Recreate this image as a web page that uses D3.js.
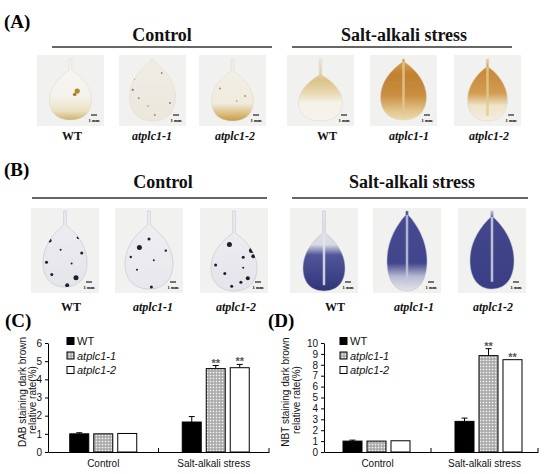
<!DOCTYPE html>
<html>
<head>
<meta charset="utf-8">
<script src="https://d3js.org/d3.v7.min.js"></script>
<style>
  body { margin: 0; background: #fff; }
  .serif { font-family: "Liberation Serif", "Times New Roman", serif; font-weight: bold; }
  .sans { font-family: "Liberation Sans", Arial, sans-serif; }
  .axis path, .axis line { stroke: #000; }
  .axis text { font-family: "Liberation Sans", Arial, sans-serif; font-size: 10px; fill: #111; }
</style>
</head>
<body>
<svg id="fig" width="550" height="474"></svg>
<script>
var genotypes = ["WT", "atplc1-1", "atplc1-2"];
var treatments = ["Control", "Salt-alkali stress"];

// (C) DAB staining, relative rate
var dabControl = [1.00, 1.00, 1.02];
var dabControlErr = [0.06, 0, 0];
var dabStress = [1.65, 4.59, 4.64];
var dabStressErr = [0.30, 0.17, 0.18];
var dabTicks = [0, 1, 2, 3, 4, 5, 6];

// (D) NBT staining, relative rate
var nbtControl = [1.00, 1.00, 1.03];
var nbtControlErr = [0.09, 0, 0];
var nbtStress = [2.81, 8.84, 8.47];
var nbtStressErr = [0.30, 0.64, 0];
var nbtTicks = [0, 1, 2, 3, 4, 5, 6, 7, 8, 9, 10];

var stressSig = ["", "**", "**"];

var svg = d3.select("#fig");
svg.append("rect").attr("width", 550).attr("height", 474).attr("fill", "#fff");
var defs = svg.append("defs");

// grey dotted fill for atplc1-1
var pat = defs.append("pattern").attr("id", "dots")
  .attr("width", 3).attr("height", 3).attr("patternUnits", "userSpaceOnUse");
pat.append("rect").attr("width", 3).attr("height", 3).attr("fill", "#bcbcbc");
pat.append("rect").attr("width", 1).attr("height", 1).attr("fill", "#f4f4f4");
pat.append("rect").attr("x", 1.5).attr("y", 1.5).attr("width", 1).attr("height", 1).attr("fill", "#7c7c7c");

var barFill = { "WT": "#000", "atplc1-1": "url(#dots)", "atplc1-2": "#fff" };

// ---------- leaf photos (A) and (B) ----------
var dabLeaves = [
  { pet: 11, len: 50, wid: 42, stops: [[0, "#f6f6f3"], [0.6, "#f5f3ec"], [0.85, "#ece2c4"], [1, "#cfb06c"]],
    spots: [[0.16, 0.42, 2.6, "#b3862f"], [0.1, 0.49, 1.8, "#a87d2d"]] },
  { pet: 2, len: 60, wid: 46, stops: [[0, "#efede6"], [1, "#ebe7dc"]],
    spots: [[-0.4, 0.3, 1.1, "#8c7a5a"], [-0.43, 0.48, 1.1, "#8c7a5a"], [-0.3, 0.62, 0.9, "#9a8864"], [0.2, 0.2, 0.9, "#9a8864"], [0.38, 0.7, 0.9, "#8c7a5a"], [0.05, 0.9, 0.9, "#9a8864"], [-0.1, 0.75, 0.8, "#9a8864"]] },
  { pet: 12, len: 50, wid: 42, stops: [[0, "#f2f0e9"], [0.72, "#f0ebdd"], [0.9, "#d9b876"], [1, "#c49a4e"]],
    spots: [[-0.3, 0.35, 0.9, "#a08860"], [0.3, 0.5, 0.9, "#a08860"], [0.1, 0.6, 0.8, "#a08860"]] },
  { pet: 16, len: 46, wid: 44, stops: [[0, "#efe9d8"], [0.35, "#dcc386"], [0.55, "#e8d9b3"], [0.7, "#f4f1e7"], [1, "#f5f3ec"]],
    spots: [] },
  { pet: 3, len: 58, wid: 46, stops: [[0, "#d9a456"], [0.25, "#c0802f"], [0.6, "#ca8f43"], [0.85, "#e2c58b"], [1, "#ebd9ad"]],
    rib: "#e2c890", spots: [] },
  { pet: 8, len: 54, wid: 40, stops: [[0, "#e8d3a2"], [0.2, "#c9883a"], [0.55, "#d29d52"], [0.75, "#efe3c7"], [1, "#f4eee2"]],
    rib: "#e2c990", spots: [] }
];
var nbtLeaves = [
  { pet: 14, len: 62, wid: 44, stops: [[0, "#eeeef2"], [1, "#e4e4eb"]],
    spots: [[-0.35, 0.25, 2], [0.3, 0.2, 1.5], [0.38, 0.45, 1.5], [-0.42, 0.6, 1.5], [-0.1, 0.4, 1], [0.25, 0.85, 2.5], [0.05, 0.97, 2], [-0.3, 0.8, 1.5], [0.15, 0.62, 1]] },
  { pet: 14, len: 64, wid: 48, stops: [[0, "#f0f0f3"], [1, "#e7e7ed"]],
    spots: [[-0.2, 0.35, 2.5], [0, 0.22, 1.5], [-0.38, 0.5, 1.2], [0.35, 0.4, 1.2], [0.1, 0.55, 1], [-0.25, 0.7, 1], [0.05, 0.97, 1.5]] },
  { pet: 22, len: 58, wid: 46, stops: [[0, "#efeff3"], [1, "#e4e4eb"]],
    spots: [[-0.1, 0.2, 2.5], [0.38, 0.3, 2.5], [0.42, 0.4, 2], [0.2, 0.42, 1.5], [-0.4, 0.55, 1.5], [-0.2, 0.7, 1.5], [0.3, 0.78, 2], [0.15, 0.85, 1.5], [-0.05, 0.92, 1.5], [0.2, 0.6, 1]] },
  { pet: 22, len: 58, wid: 42, stops: [[0, "#e9e9ee"], [0.42, "#d9d9e4"], [0.55, "#51569a"], [1, "#30357a"]],
    rib: "#e4e4ec", spots: [] },
  { pet: 4, len: 76, wid: 40, stops: [[0, "#474c92"], [0.65, "#41468c"], [0.82, "#b9bad1"], [1, "#e4e4ea"]],
    rib: "#c4c6dd", spots: [] },
  { pet: 6, len: 72, wid: 44, stops: [[0, "#c8c9dc"], [0.1, "#43488c"], [1, "#3a3f85"]],
    rib: "#d3d4e5", spots: [] }
];

function leafPath(cx, top, pet, len, wid) {
  var p = d3.path(), b = top + pet, e = b + len, h = wid / 2;
  p.moveTo(cx - 1.3, top);
  p.lineTo(cx + 1.3, top);
  p.lineTo(cx + 1.3, b);
  p.bezierCurveTo(cx + h * 0.55, b + len * 0.14, cx + h, b + len * 0.35, cx + h, b + len * 0.6);
  p.bezierCurveTo(cx + h, b + len * 0.88, cx + h * 0.55, e, cx, e);
  p.bezierCurveTo(cx - h * 0.55, e, cx - h, b + len * 0.88, cx - h, b + len * 0.6);
  p.bezierCurveTo(cx - h, b + len * 0.35, cx - h * 0.55, b + len * 0.14, cx - 1.3, b);
  p.closePath();
  return p.toString();
}

function photoPanel(o) {
  var g = svg.append("g");
  g.append("text").attr("class", "serif").attr("x", o.tagX).attr("y", o.tagY)
    .attr("font-size", 19).text(o.tag);
  treatments.forEach(function (t, i) {
    g.append("text").attr("class", "serif").attr("x", o.titleX[i]).attr("y", o.titleY)
      .attr("text-anchor", "middle").attr("font-size", 18).attr("fill", "#111").text(t);
    g.append("line").attr("x1", o.lineX[i][0]).attr("x2", o.lineX[i][1])
      .attr("y1", o.lineY).attr("y2", o.lineY).attr("stroke", "#333").attr("stroke-width", 1.6);
  });
  o.leaves.forEach(function (lf, i) {
    var tx = o.tileX[i], cx = tx + o.tileW / 2, top = o.tileY + o.leafTop;
    g.append("rect").attr("x", tx).attr("y", o.tileY).attr("width", o.tileW).attr("height", o.tileH)
      .attr("fill", "#f1f1f0");
    var id = o.tag.replace(/\W/g, "") + i;
    var grad = defs.append("linearGradient").attr("id", "g" + id)
      .attr("x1", 0).attr("y1", 0).attr("x2", 0).attr("y2", 1);
    lf.stops.forEach(function (s) {
      grad.append("stop").attr("offset", s[0]).attr("stop-color", s[1]);
    });
    var d = leafPath(cx, top, lf.pet, lf.len, lf.wid);
    defs.append("clipPath").attr("id", "c" + id).append("path").attr("d", d);
    g.append("path").attr("d", d).attr("fill", "url(#g" + id + ")")
      .attr("stroke", o.edge).attr("stroke-width", 0.5);
    var inner = g.append("g").attr("clip-path", "url(#c" + id + ")");
    if (lf.rib) {
      inner.append("line").attr("x1", cx).attr("x2", cx)
        .attr("y1", top + lf.pet).attr("y2", top + lf.pet + lf.len * 0.9)
        .attr("stroke", lf.rib).attr("stroke-width", 2.5).attr("opacity", 0.85);
    }
    lf.spots.forEach(function (s) {
      inner.append("circle").attr("cx", cx + s[0] * lf.wid).attr("cy", top + lf.pet + s[1] * lf.len)
        .attr("r", s[2]).attr("fill", s[3] || "#1e1e2c");
    });
    // scale bar
    var sx = tx + o.tileW - 10, sy = o.tileY + o.tileH - 11;
    g.append("line").attr("x1", sx - 3).attr("x2", sx + 3).attr("y1", sy).attr("y2", sy)
      .attr("stroke", "#222").attr("stroke-width", 1.2);
    g.append("text").attr("class", "serif").attr("x", sx).attr("y", sy + 7)
      .attr("text-anchor", "middle").attr("font-size", 4.5).attr("font-weight", "normal").text("1 mm");
    // genotype label
    g.append("text").attr("class", "serif").attr("x", o.labelX[i]).attr("y", o.labelY)
      .attr("text-anchor", "middle").attr("font-size", 12).attr("fill", "#111")
      .attr("font-style", i % 3 === 0 ? "normal" : "italic").text(genotypes[i % 3]);
  });
}

photoPanel({
  tag: "(A)", tagX: 4, tagY: 28, titleX: [162, 404], titleY: 41,
  lineX: [[52, 272], [292, 512]], lineY: 47,
  tileX: [37, 119, 199, 287, 370, 454], tileY: 55, tileW: 67, tileH: 71, leafTop: 4,
  labelX: [72, 152, 235, 327, 409, 489], labelY: 140,
  leaves: dabLeaves, edge: "#dcd7c8"
});
photoPanel({
  tag: "(B)", tagX: 4, tagY: 176, titleX: [163, 412], titleY: 188,
  lineX: [[32, 267], [292, 528]], lineY: 198,
  tileX: [31, 115, 200, 290, 373, 458], tileY: 208, tileW: 68, tileH: 85, leafTop: 3,
  labelX: [71, 153, 236, 335, 414, 493], labelY: 311,
  leaves: nbtLeaves, edge: "#b8b8c8"
});

// ---------- bar charts (C) and (D) ----------
function barPanel(o) {
  var g = svg.append("g");
  g.append("text").attr("class", "serif").attr("x", o.tagX).attr("y", 327)
    .attr("font-size", 19).text(o.tag);

  var x0 = d3.scaleBand().domain(treatments).range([o.left, o.right]);
  var x1 = d3.scaleBand().domain(genotypes).range([0, 67]).paddingInner(0.208);
  var y = d3.scaleLinear().domain([0, d3.max(o.ticks)]).range([452, 343]);

  g.append("g").attr("class", "axis").attr("transform", "translate(" + o.left + ",0)")
    .call(d3.axisLeft(y).tickValues(o.ticks).tickFormat(d3.format("d"))
      .tickSize(3).tickSizeOuter(0).tickPadding(3));
  g.append("g").attr("class", "axis").attr("transform", "translate(0,452)")
    .call(d3.axisBottom(x0).tickSize(0).tickPadding(8));
  [1, 2].forEach(function (k) {
    var xx = o.left + k * x0.step();
    g.append("line").attr("x1", xx).attr("x2", xx).attr("y1", 452).attr("y2", 448).attr("stroke", "#000");
  });

  var series = [
    { t: treatments[0], v: o.control, e: o.controlErr, sig: ["", "", ""] },
    { t: treatments[1], v: o.stress, e: o.stressErr, sig: stressSig }
  ];
  series.forEach(function (s) {
    var off = x0(s.t) + (x0.bandwidth() - 67) / 2 + o.shift[treatments.indexOf(s.t)];
    genotypes.forEach(function (gt, i) {
      var bx = off + x1(gt), cx = bx + x1.bandwidth() / 2;
      if (s.e[i] > 0) {
        var ye = y(s.v[i] + s.e[i]);
        g.append("line").attr("x1", cx).attr("x2", cx).attr("y1", y(s.v[i])).attr("y2", ye).attr("stroke", "#000");
        g.append("line").attr("x1", cx - 3).attr("x2", cx + 3).attr("y1", ye).attr("y2", ye).attr("stroke", "#000");
      }
      g.append("rect").attr("x", bx).attr("y", y(s.v[i])).attr("width", x1.bandwidth())
        .attr("height", 452 - y(s.v[i])).attr("fill", barFill[gt]).attr("stroke", "#000").attr("stroke-width", 1);
      if (s.sig[i]) {
        g.append("text").attr("class", "sans").attr("x", cx).attr("y", y(s.v[i] + s.e[i]) + 1)
          .attr("text-anchor", "middle").attr("font-size", 11).attr("font-weight", "bold")
          .attr("fill", "#555").text(s.sig[i]);
      }
    });
  });

  // y label
  o.ylab.forEach(function (t, i) {
    g.append("text").attr("class", "sans")
      .attr("transform", "translate(" + o.ylabX[i] + "," + o.ylabY[i] + ") rotate(-90)")
      .attr("text-anchor", "middle").attr("font-size", 10).attr("fill", "#111").text(t);
  });

  // legend
  genotypes.forEach(function (gt, i) {
    var ly = [341, 355.5, 370][i];
    g.append("rect").attr("x", o.legX).attr("y", ly - 3.5).attr("width", 7).attr("height", 7)
      .attr("fill", barFill[gt]).attr("stroke", "#000").attr("stroke-width", 1);
    g.append("text").attr("class", "sans").attr("x", o.legX + 10).attr("y", ly + 4)
      .attr("font-size", 11).attr("fill", "#111")
      .attr("font-style", i === 0 ? "normal" : "italic").text(gt);
  });
}

barPanel({
  tag: "(C)", tagX: 5, left: 48, right: 269, ticks: dabTicks,
  control: dabControl, controlErr: dabControlErr, stress: dabStress, stressErr: dabStressErr,
  shift: [0, 2], ylab: ["DAB staining dark brown", "relative rate(%)"],
  ylabX: [26, 36], ylabY: [392, 400], legX: 67
});
barPanel({
  tag: "(D)", tagX: 268, left: 324, right: 538, ticks: nbtTicks,
  control: nbtControl, controlErr: nbtControlErr, stress: nbtStress, stressErr: nbtStressErr,
  shift: [-1, 4], ylab: ["NBT staining dark brown", "relative rate(%)"],
  ylabX: [289, 300], ylabY: [392, 400], legX: 340
});
</script>
</body>
</html>
